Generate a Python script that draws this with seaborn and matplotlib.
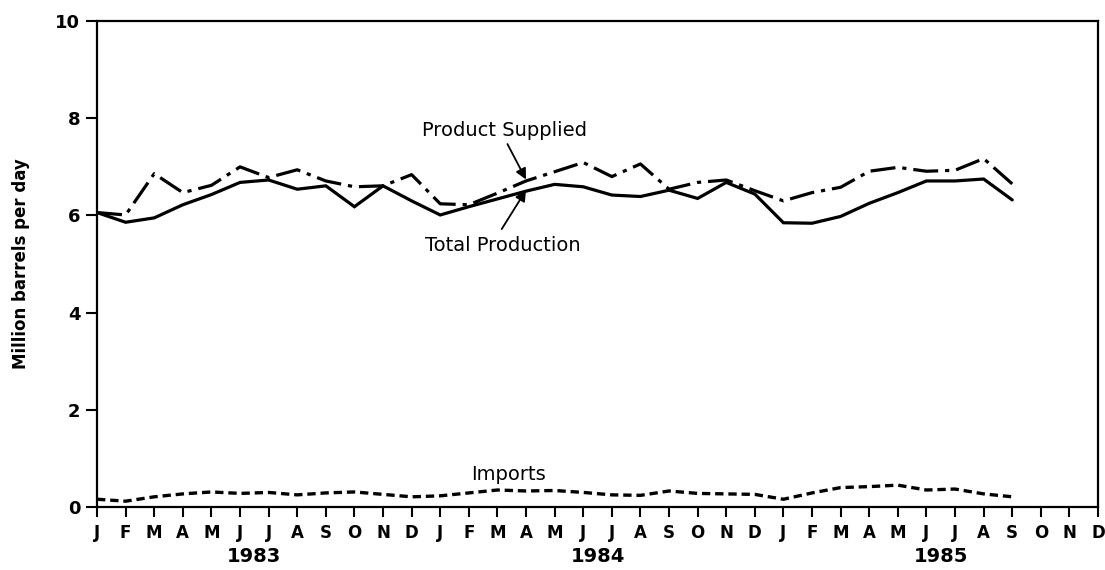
import matplotlib
matplotlib.use("Agg")
import matplotlib.pyplot as plt
import matplotlib.transforms as mtransforms
import numpy as np
import pandas as pd
import seaborn as sns

# Monthly supply figures, January 1983 through September 1985
month_letters = ["J", "F", "M", "A", "M", "J", "J", "A", "S", "O", "N", "D"] * 3
years = ["1983", "1984", "1985"]

total_production = [6.06, 5.86, 5.95, 6.22, 6.43, 6.68, 6.73, 6.54, 6.61, 6.18, 6.61, 6.30,
                    6.01, 6.18, 6.34, 6.50, 6.64, 6.59, 6.42, 6.39, 6.52, 6.35, 6.68, 6.44,
                    5.85, 5.84, 5.98, 6.25, 6.47, 6.71, 6.71, 6.75, 6.32]
product_supplied = [6.06, 6.01, 6.86, 6.47, 6.62, 7.00, 6.78, 6.94, 6.71, 6.59, 6.61, 6.84,
                    6.24, 6.22, 6.46, 6.71, 6.90, 7.09, 6.80, 7.06, 6.54, 6.68, 6.73, 6.51,
                    6.30, 6.47, 6.58, 6.91, 6.99, 6.91, 6.93, 7.17, 6.65]
imports = [0.16, 0.12, 0.21, 0.27, 0.31, 0.28, 0.30, 0.25, 0.29, 0.31, 0.26, 0.21,
           0.23, 0.29, 0.35, 0.33, 0.34, 0.30, 0.25, 0.24, 0.33, 0.28, 0.27, 0.26,
           0.16, 0.29, 0.40, 0.42, 0.45, 0.35, 0.37, 0.27, 0.21]

month_index = np.arange(len(total_production))
df = pd.DataFrame({
    "month": month_index,
    "Total Production": total_production,
    "Product Supplied": product_supplied,
    "Imports": imports,
})

sns.set_theme(style="white")
plt.rcParams["font.family"] = ["DejaVu Sans"]
plt.rcParams["text.color"] = "black"
plt.rcParams["axes.labelcolor"] = "black"
plt.rcParams["xtick.color"] = "black"
plt.rcParams["ytick.color"] = "black"
plt.rcParams["lines.scale_dashes"] = False

fig = plt.figure(figsize=(11.05, 5.70), dpi=100)
ax = fig.add_axes([0.0878, 0.1105, 0.9059, 0.8525])

sns.lineplot(data=df, x="month", y="Total Production", ax=ax, color="black",
             linewidth=2.3, solid_joinstyle="miter")
sns.lineplot(data=df, x="month", y="Product Supplied", ax=ax, color="black",
             linewidth=2.3, linestyle=(0, (18, 5, 3, 5)))
sns.lineplot(data=df, x="month", y="Imports", ax=ax, color="black",
             linewidth=2.4, linestyle=(0, (6, 3.5)))

ax.set_xlim(0, 35)
ax.set_ylim(0, 10)
ax.set_xticks(np.arange(36))
ax.set_xticklabels(month_letters, fontsize=12, fontweight="bold")
ax.set_yticks(np.arange(0, 11, 2))
ax.set_yticklabels([str(v) for v in range(0, 11, 2)], fontsize=13, fontweight="bold")
ax.tick_params(axis="x", direction="out", length=7, width=1.5, pad=5, bottom=True)
ax.tick_params(axis="y", direction="out", length=8, width=1.5, pad=4, left=True)
ax.set_xlabel("")
ax.set_ylabel("Million barrels per day", fontsize=12, fontweight="bold", labelpad=18)

for side in ["left", "right", "top", "bottom"]:
    ax.spines[side].set_visible(True)
    ax.spines[side].set_color("black")
    ax.spines[side].set_linewidth(1.6)

# Year captions centred under each run of twelve months
trans = mtransforms.blended_transform_factory(ax.transData, ax.transAxes)
for k, yr in enumerate(years):
    ax.text(12 * k + 5.5, -0.102, yr, transform=trans, ha="center", va="center",
            fontsize=14, fontweight="bold")

# Series labels with pointer arrows
arrow = dict(arrowstyle="-|>", color="black", lw=1.3, mutation_scale=16,
             shrinkA=0, shrinkB=0)
ax.text(14.23, 7.74, "Product Supplied", ha="center", va="center", fontsize=14)
ax.annotate("", xy=(15.0, 6.74), xytext=(14.35, 7.47), arrowprops=arrow)
ax.text(14.2, 5.38, "Total Production", ha="center", va="center", fontsize=14)
ax.annotate("", xy=(15.0, 6.52), xytext=(14.15, 5.72), arrowprops=arrow)
ax.text(14.37, 0.66, "Imports", ha="center", va="center", fontsize=14)

fig.savefig("out.png", dpi=100, facecolor="white")
